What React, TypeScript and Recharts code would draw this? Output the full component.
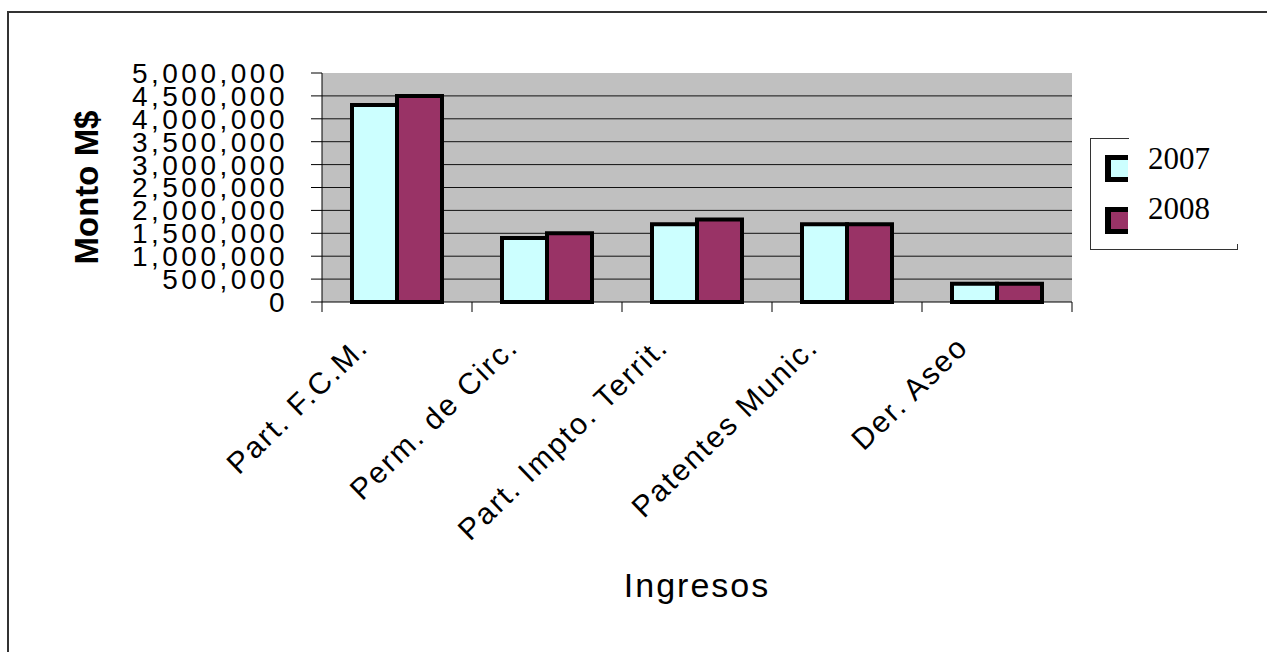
import { BarChart, Bar, XAxis, YAxis, CartesianGrid, Legend, Label } from 'recharts';

const categories = ['Part. F.C.M.', 'Perm. de Circ.', 'Part. Impto. Territ.', 'Patentes Munic.', 'Der. Aseo'];
const values2007 = [4300000, 1400000, 1700000, 1700000, 400000];
const values2008 = [4500000, 1500000, 1800000, 1700000, 400000];
const yTicks = [0, 500000, 1000000, 1500000, 2000000, 2500000, 3000000, 3500000, 4000000, 4500000, 5000000];
const gridValues = yTicks.filter((v) => v > 0 && v < 5000000);

const data = categories.map((name, i) => ({ name, y2007: values2007[i], y2008: values2008[i] }));

const sans = '"Liberation Sans", Arial, sans-serif';
const serif = '"Liberation Serif", "Times New Roman", serif';

const fmt = (v: number) => v.toLocaleString('en-US');

// category tick: boundary marks + rotated label
const CategoryTick = (props: any) => {
  const { x, y, payload, width, visibleTicksCount, index } = props;
  const band = width / visibleTicksCount;
  const tx = x - 27;
  const ty = y + 47;
  return (
    <g>
      <line x1={x - band / 2} y1={y} x2={x - band / 2} y2={y + 10} stroke="#000" />
      {index === visibleTicksCount - 1 && (
        <line x1={x + band / 2} y1={y} x2={x + band / 2} y2={y + 10} stroke="#000" />
      )}
      <text
        x={tx}
        y={ty}
        textAnchor="end"
        transform={`rotate(-44 ${tx} ${ty})`}
        fontFamily={sans}
        fontSize={30}
        letterSpacing={2}
        fill="#000"
      >
        {payload.value}
      </text>
    </g>
  );
};

const LegendBox = (props: any) => {
  const items = props.payload || [];
  return (
    <div
      style={{
        position: 'relative',
        width: 148,
        height: 112,
        boxSizing: 'border-box',
        borderLeft: '1px solid #333',
        borderBottom: '1px solid #333',
        fontFamily: serif,
        fontSize: 31,
        color: '#000',
      }}
    >
      <div style={{ position: 'absolute', left: 0, top: 0, width: 38, borderTop: '1px solid #333' }} />
      <div style={{ position: 'absolute', right: 0, bottom: 0, height: 5, borderRight: '1px solid #333' }} />
      {items.map((it: any, i: number) => (
        <div key={it.value}>
          <div
            style={{
              position: 'absolute',
              left: 14,
              top: 17 + i * 52,
              width: 23,
              height: 27,
              boxSizing: 'border-box',
              background: it.color,
              borderLeft: '6px solid #000',
              borderTop: '5px solid #000',
              borderBottom: '5px solid #000',
            }}
          />
          <span style={{ position: 'absolute', left: 57, top: 5 + i * 50, lineHeight: 1 }}>{it.value}</span>
        </div>
      ))}
    </div>
  );
};

export default function App() {
  return (
    <div style={{ position: 'absolute', left: 0, top: 0, width: 1267, height: 652 }}>
      <div
        style={{
          position: 'absolute',
          left: 7,
          top: 11,
          width: 1260,
          height: 641,
          boxSizing: 'border-box',
          borderTop: '2px solid #333',
          borderLeft: '2px solid #333',
        }}
      />
      <BarChart
        width={1267}
        height={652}
        data={data}
        margin={{ top: 73, right: 195, bottom: 0, left: 0 }}
        barCategoryGap="20%"
        barGap={0}
      >
        <CartesianGrid vertical={false} horizontalValues={gridValues} fill="#C0C0C0" fillOpacity={1} stroke="#111" />
        <XAxis
          dataKey="name"
          height={350}
          interval={0}
          tickLine={false}
          tickSize={0}
          tickMargin={0}
          axisLine={{ stroke: '#000' }}
          tick={<CategoryTick />}
        >
          <Label
            content={(p: any) => {
              const vb = p.viewBox;
              return (
                <text
                  x={vb.x + vb.width / 2}
                  y={vb.y + 295}
                  textAnchor="middle"
                  fontFamily={sans}
                  fontSize={34}
                  letterSpacing={2}
                  fill="#000"
                >
                  Ingresos
                </text>
              );
            }}
          />
        </XAxis>
        <YAxis
          width={322}
          domain={[0, 5000000]}
          ticks={yTicks}
          interval={0}
          tickFormatter={fmt}
          tickSize={11}
          tickMargin={23}
          axisLine={{ stroke: '#000' }}
          tickLine={{ stroke: '#000' }}
          tick={{ fill: '#000', fontSize: 28, fontFamily: sans, letterSpacing: 3.5 }}
        >
          <Label
            content={(p: any) => {
              const vb = p.viewBox;
              const cx = vb.x + 86;
              const cy = vb.y + vb.height / 2;
              return (
                <text
                  x={cx}
                  y={cy}
                  textAnchor="middle"
                  dominantBaseline="central"
                  transform={`rotate(-90 ${cx} ${cy})`}
                  fontFamily={sans}
                  fontSize={33}
                  fontWeight="bold"
                  fill="#000"
                >
                  Monto M$
                </text>
              );
            }}
          />
        </YAxis>
        <Legend
          layout="vertical"
          align="center"
          verticalAlign="middle"
          content={<LegendBox />}
          wrapperStyle={{ left: 1090, top: 138, width: 148, height: 112 }}
        />
        <Bar dataKey="y2007" name="2007" fill="#CCFFFF" stroke="#000" strokeWidth={4} isAnimationActive={false} />
        <Bar dataKey="y2008" name="2008" fill="#993366" stroke="#000" strokeWidth={4} isAnimationActive={false} />
      </BarChart>
    </div>
  );
}
